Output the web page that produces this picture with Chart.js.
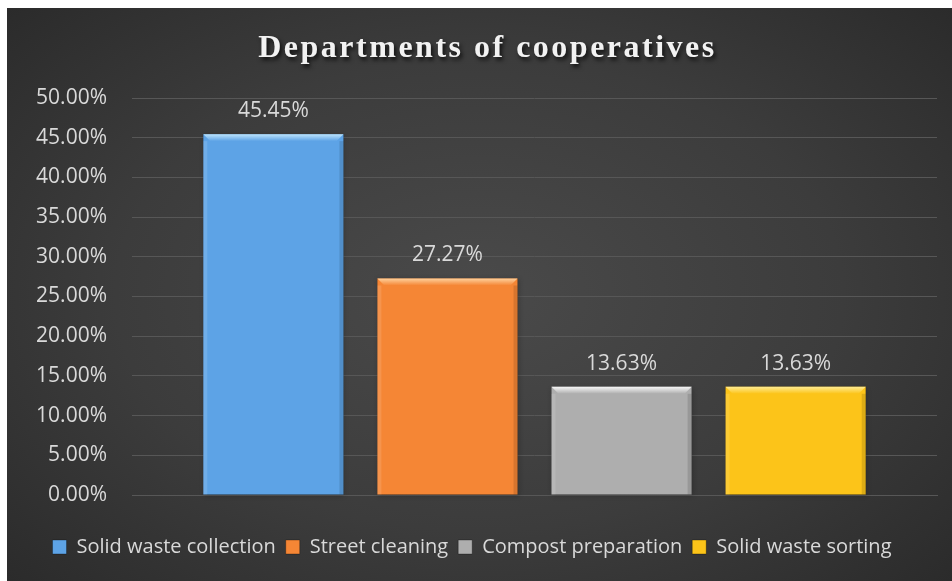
<!DOCTYPE html>
<html>
<head>
<meta charset="utf-8">
<script src="https://cdn.jsdelivr.net/npm/chart.js@4.4.1/dist/chart.umd.min.js"></script>
<style>
  html, body { margin: 0; padding: 0; background: #ffffff; }
  #wrap {
    position: absolute; left: 7px; top: 8px; width: 945px; height: 573px;
    background: radial-gradient(ellipse 70% 75% at 50% 50%, #4a4a4a 0%, #3c3c3c 55%, #2a2a2a 100%);
  }
  canvas { display: block; }
</style>
</head>
<body>
<div id="wrap"><canvas id="c"></canvas></div>
<script>
const chartTitle = "Departments of cooperatives";
const categories = [""];
const seriesNames = ["Solid waste collection", "Street cleaning", "Compost preparation", "Solid waste sorting"];
const seriesValues = [45.45, 27.27, 13.63, 13.63];
const seriesColors = ["#5da3e6", "#f58635", "#aeaeae", "#fcc419"];
const seriesHighlights = ["#c9ecff", "#ffd9a8", "#ffffff", "#fff0a0"];
const yTicks = [0, 5, 10, 15, 20, 25, 30, 35, 40, 45, 50];

const FONT = "'Open Sans', 'DejaVu Sans', sans-serif";
const TEXT = "#d9d9d9";

const titlePlugin = {
  id: 'customTitle',
  afterDraw(chart) {
    const ctx = chart.ctx;
    ctx.save();
    ctx.font = "bold 32px 'Liberation Serif', 'Times New Roman', serif";
    ctx.letterSpacing = "2.5px";
    const w = ctx.measureText(chartTitle).width;
    const cx = chart.width / 2 + 8;
    ctx.textAlign = 'left';
    ctx.textBaseline = 'alphabetic';
    ctx.shadowColor = 'rgba(0,0,0,0.75)';
    ctx.shadowOffsetX = 2;
    ctx.shadowOffsetY = 3;
    ctx.shadowBlur = 4;
    ctx.fillStyle = '#f2f2f2';
    ctx.fillText(chartTitle, cx - w / 2, 49);
    ctx.restore();
  }
};

const barDecor = {
  id: 'barDecor',
  beforeDatasetsDraw(chart) {
    const ctx = chart.ctx;
    chart.data.datasets.forEach((ds, i) => {
      const meta = chart.getDatasetMeta(i);
      meta.data.forEach(bar => {
        const left = bar.x - bar.width / 2, top = bar.y, h = bar.base - bar.y;
        ctx.save();
        ctx.shadowColor = 'rgba(0,0,0,0.55)';
        ctx.shadowBlur = 5;
        ctx.shadowOffsetX = 1;
        ctx.shadowOffsetY = 1;
        ctx.fillStyle = 'rgba(0,0,0,0.4)';
        ctx.fillRect(left, top, bar.width, h);
        ctx.restore();
      });
    });
  },
  afterDatasetsDraw(chart) {
    const ctx = chart.ctx;
    chart.data.datasets.forEach((ds, i) => {
      const meta = chart.getDatasetMeta(i);
      meta.data.forEach((bar, j) => {
        const left = bar.x - bar.width / 2, right = bar.x + bar.width / 2, top = bar.y;
        const bev = 7;
        ctx.save();
        const g = ctx.createLinearGradient(0, top, 0, top + bev);
        g.addColorStop(0, seriesHighlights[i]);
        g.addColorStop(1, seriesColors[i]);
        ctx.fillStyle = g;
        ctx.beginPath();
        ctx.moveTo(left, top);
        ctx.lineTo(right, top);
        ctx.lineTo(right - bev, top + bev);
        ctx.lineTo(left + bev, top + bev);
        ctx.closePath();
        ctx.globalAlpha = 0.9;
        ctx.fill();
        ctx.globalAlpha = 0.12;
        ctx.fillStyle = '#ffffff';
        ctx.fillRect(left, top + bev, 4, bar.base - top - bev);
        ctx.fillStyle = '#000000';
        ctx.fillRect(right - 4, top + bev, 4, bar.base - top - bev);
        ctx.restore();
        const v = ds.data[j];
        ctx.save();
        ctx.font = "21px " + FONT;
        ctx.fillStyle = TEXT;
        ctx.textAlign = 'center';
        ctx.textBaseline = 'middle';
        ctx.fillText(v.toFixed(2) + '%', bar.x, top - 23);
        ctx.restore();
      });
    });
  }
};

const datasets = seriesNames.map((name, i) => ({
  label: name,
  data: [seriesValues[i]],
  backgroundColor: seriesColors[i],
  borderWidth: 0,
  categoryPercentage: 0.865,
  barPercentage: 0.805
}));

new Chart(document.getElementById('c'), {
  type: 'bar',
  data: { labels: categories, datasets },
  options: {
    responsive: true,
    maintainAspectRatio: false,
    animation: false,
    layout: { padding: { top: 90, right: 15, left: 0, bottom: 14 } },
    plugins: {
      title: { display: false },
      tooltip: { enabled: false },
      legend: {
        position: 'bottom',
        labels: {
          color: TEXT,
          font: { family: FONT, size: 20 },
          boxWidth: 14,
          boxHeight: 14,
          padding: 10,
          generateLabels(chart) {
            return chart.data.datasets.map((ds, i) => ({
              text: ds.label,
              fillStyle: seriesColors[i],
              strokeStyle: 'rgba(0,0,0,0.3)',
              lineWidth: 1,
              fontColor: TEXT,
              datasetIndex: i,
              hidden: false
            }));
          }
        }
      }
    },
    scales: {
      x: {
        ticks: { display: false },
        grid: { display: false },
        border: { display: true, color: '#575757', width: 1 },
        afterFit(axis) { axis.height = 32; }
      },
      y: {
        min: 0,
        max: 50,
        afterBuildTicks(axis) { axis.ticks = yTicks.map(v => ({ value: v })); },
        afterFit(axis) { axis.width = 125; },
        ticks: {
          color: TEXT,
          font: { family: FONT, size: 21 },
          padding: 25,
          callback: v => v.toFixed(2) + '%'
        },
        grid: { color: '#575757', lineWidth: 1, drawTicks: false },
        border: { display: false }
      }
    }
  },
  plugins: [titlePlugin, barDecor]
});
</script>
</body>
</html>
